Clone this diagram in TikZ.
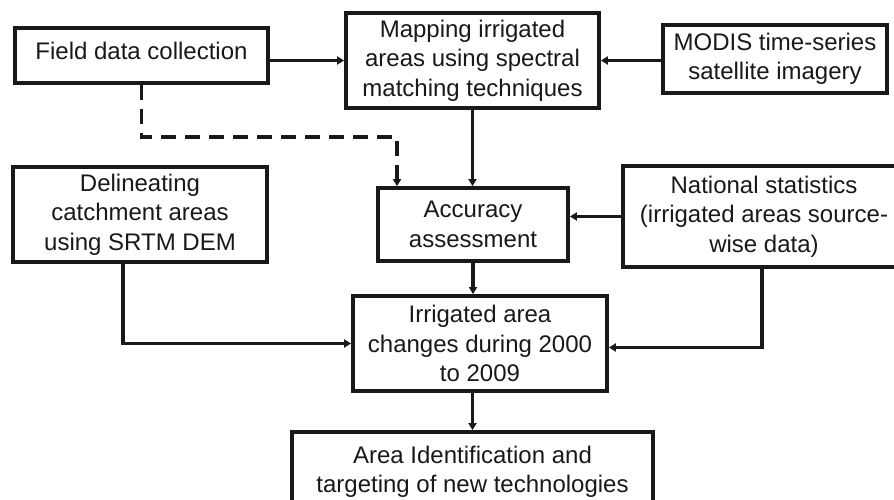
\documentclass[tikz,border=0pt]{standalone}
\usepackage{fontspec}
\setmainfont{Liberation Sans}
\usetikzlibrary{arrows.meta}
\tikzset{
  box/.style={draw=black!90, line width=3.8pt, fill=white, align=center, inner sep=0pt,
    font=\fontsize{24}{29.5}\selectfont, text=black!90},
  conn/.style={line width=3.2pt, draw=black!90, -{Triangle[length=7pt,width=8pt]}},
  dconn/.style={conn, dash pattern=on 15pt off 9pt}
}
\begin{document}
\begin{tikzpicture}[x=1pt,y=-1pt]
\useasboundingbox (0,0) rectangle (894,500);
\node[box, minimum width=253pt, minimum height=55pt] (field) at (141.5,55.5) {\raisebox{9pt}{Field data collection}};
\node[box, minimum width=253pt, minimum height=95pt] (map) at (472.5,60.5) {Mapping irrigated\\areas using spectral\\matching techniques};
\node[box, minimum width=224pt, minimum height=68pt] (modis) at (775,59) {MODIS time-series\\satellite imagery};
\node[box, minimum width=254pt, minimum height=95pt] (delin) at (140,214.5) {Delineating\\catchment areas\\using SRTM DEM};
\node[box, minimum width=190pt, minimum height=73pt] (acc) at (473,224.5) {Accuracy\\assessment};
\node[box, minimum width=282pt, minimum height=101pt] (nat) at (764,216.5) {National statistics\\(irrigated areas source-\\wise data)};
\node[box, minimum width=254pt, minimum height=95pt] (irr) at (480,343.5) {Irrigated area\\changes during 2000\\to 2009};
\node[box, minimum width=361pt, minimum height=80pt] (final) at (472.5,472) {\raisebox{6pt}{\begin{tabular}{@{}c@{}}Area Identification and\\targeting of new technologies\end{tabular}}};
\coordinate (dk) at (397,137);
\draw[conn] (field.east |- map.west) -- (map.west);
\draw[conn] (modis.west |- map.east) -- (map.east);
\draw[dconn] (field.south) |- (dk) -- (dk |- acc.north);
\draw[conn] (map.south) -- (map.south |- acc.north);
\draw[conn] (nat.west) -- (nat.west -| acc.east);
\draw[conn] (acc.south) -- (acc.south |- irr.north);
\draw[conn] ([xshift=-17pt]delin.south) |- (irr.west);
\draw[conn] ([xshift=-2pt]nat.south) |- ([yshift=-4pt]irr.east);
\draw[conn] (final.north |- irr.south) -- (final.north);
\end{tikzpicture}
\end{document}
